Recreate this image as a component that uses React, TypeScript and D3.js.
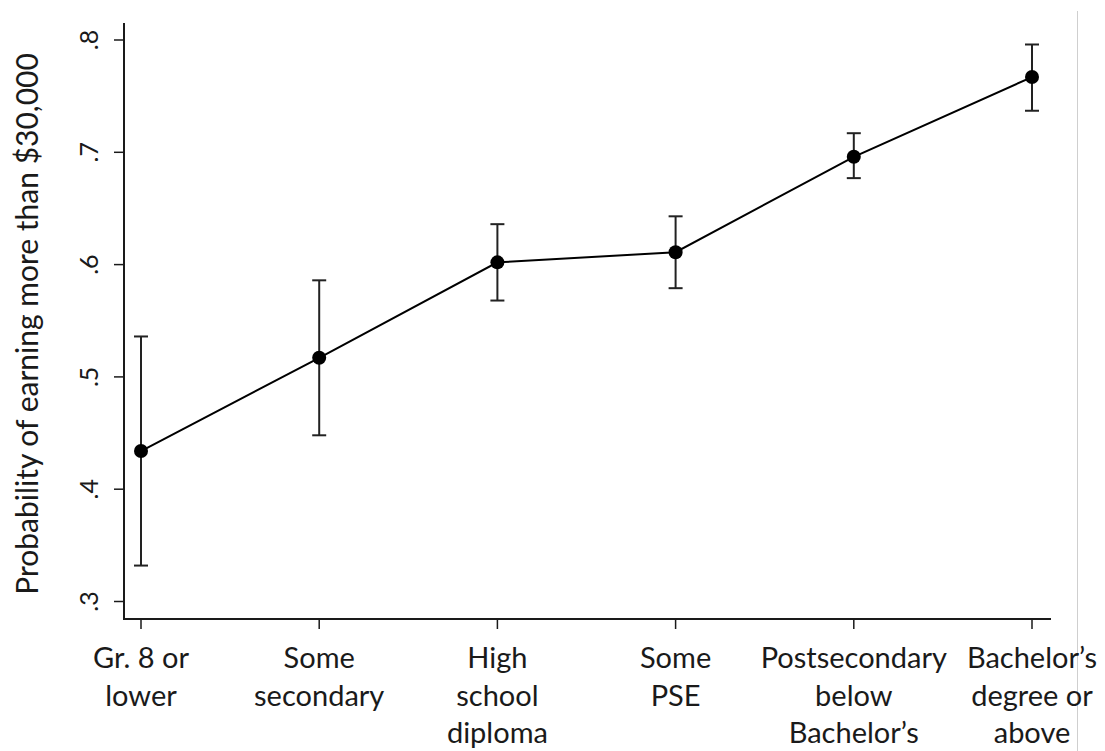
import React from "react";
import * as d3 from "d3";

// Education categories (multi-line labels)
const categories: string[][] = [
  ["Gr. 8 or", "lower"],
  ["Some", "secondary"],
  ["High", "school", "diploma"],
  ["Some", "PSE"],
  ["Postsecondary", "below", "Bachelor\u2019s"],
  ["Bachelor\u2019s", "degree or", "above"],
];

// Predicted probability and 95% confidence bounds
const estimate = [0.434, 0.517, 0.602, 0.611, 0.696, 0.767];
const lower = [0.332, 0.448, 0.568, 0.579, 0.677, 0.737];
const upper = [0.536, 0.586, 0.636, 0.643, 0.717, 0.796];

const yTicks = [0.3, 0.4, 0.5, 0.6, 0.7, 0.8];
const yTitle = "Probability of earning more than $30,000";

const W = 1105;
const H = 751;
const FONT = "Lato, 'Open Sans', sans-serif";
const INK = "#1a1a1a";

export default function App() {
  const keys = categories.map((c) => c.join(" "));
  const x = d3.scalePoint<string>().domain(keys).range([141, 1032]);
  const y = d3.scaleLinear().domain([0.3, 0.8]).range([601.5, 40]);

  const axisX = 124;
  const axisY = 619;

  const pts = keys.map((k, i) => [x(k) as number, y(estimate[i])] as [number, number]);
  const line = d3.line()(pts) as string;

  return (
    <svg
      width={W}
      height={H}
      style={{ position: "absolute", left: 0, top: 0, background: "#fff" }}
      fontFamily={FONT}
    >
      <rect x={0} y={0} width={W} height={H} fill="#fff" />
      {/* right frame edge */}
      <line x1={1077.5} x2={1077.5} y1={11} y2={H} stroke="#cfcfcf" strokeWidth={1} />

      {/* y axis */}
      <line x1={axisX} x2={axisX} y1={23} y2={axisY + 1} stroke={INK} strokeWidth={2} />
      {yTicks.map((t) => (
        <g key={t}>
          <line x1={axisX - 10} x2={axisX} y1={y(t)} y2={y(t)} stroke={INK} strokeWidth={1.5} />
          <text
            transform={`translate(98,${y(t)}) rotate(-90)`}
            textAnchor="middle"
            fontSize={25}
            fill={INK}
          >
            {d3.format(".1f")(t).replace(/^0/, "")}
          </text>
        </g>
      ))}
      <text
        transform={`translate(38,324) rotate(-90)`}
        textAnchor="middle"
        fontSize={30}
        fill={INK}
      >
        {yTitle}
      </text>

      {/* x axis */}
      <line x1={axisX - 1} x2={1051} y1={axisY} y2={axisY} stroke={INK} strokeWidth={2} />
      {keys.map((k, i) => (
        <g key={k}>
          <line x1={x(k)} x2={x(k)} y1={axisY} y2={axisY + 10} stroke={INK} strokeWidth={1.5} />
          <text textAnchor="middle" fontSize={29} fill={INK}>
            {categories[i].map((ln, j) => (
              <tspan key={j} x={x(k)} y={668 + j * 37.5}>
                {ln}
              </tspan>
            ))}
          </text>
        </g>
      ))}

      {/* connecting line */}
      <path d={line} fill="none" stroke="#000" strokeWidth={2} />

      {/* confidence intervals */}
      {keys.map((k, i) => {
        const cx = x(k) as number;
        return (
          <g key={k} stroke="#222" strokeWidth={2}>
            <line x1={cx} x2={cx} y1={y(lower[i])} y2={y(upper[i])} />
            <line x1={cx - 7} x2={cx + 7} y1={y(lower[i])} y2={y(lower[i])} />
            <line x1={cx - 7} x2={cx + 7} y1={y(upper[i])} y2={y(upper[i])} />
          </g>
        );
      })}

      {/* point estimates */}
      {pts.map(([px, py], i) => (
        <circle key={i} cx={px} cy={py} r={7} fill="#000" />
      ))}
    </svg>
  );
}
